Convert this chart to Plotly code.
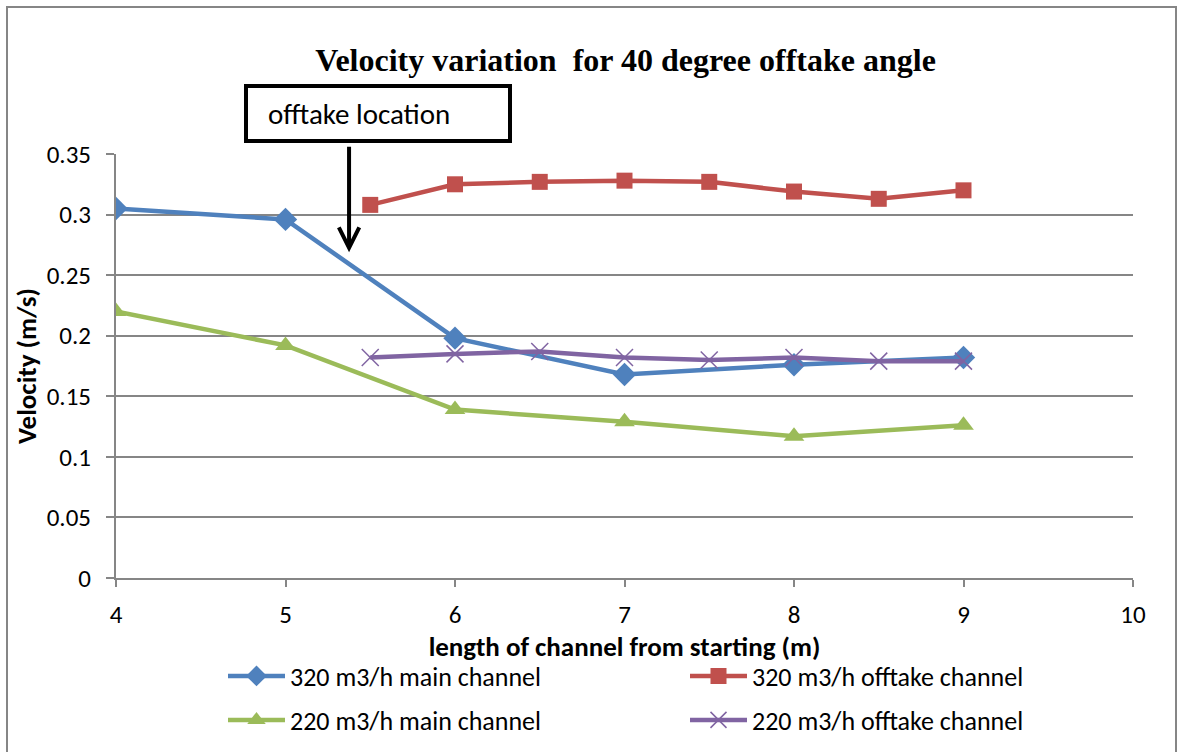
import plotly.graph_objects as go

# ---- data ----
x_main = [4, 5, 6, 7, 8, 9]
x_off = [5.5, 6, 6.5, 7, 7.5, 8, 8.5, 9]
main_320 = [0.305, 0.296, 0.198, 0.168, 0.176, 0.182]
off_320 = [0.308, 0.325, 0.327, 0.328, 0.327, 0.319, 0.313, 0.320]
main_220 = [0.220, 0.192, 0.139, 0.129, 0.117, 0.126]
off_220 = [0.182, 0.185, 0.187, 0.182, 0.180, 0.182, 0.179, 0.179]
names = ["320 m3/h main channel", "320 m3/h offtake channel",
         "220 m3/h main channel", "220 m3/h offtake channel"]
offtake_x = 5.375
offtake_y = 0.269

FONT = "Carlito, Lato, 'Liberation Sans', sans-serif"

fig = go.Figure()
fig.add_trace(go.Scatter(x=x_main, y=main_320, name=names[0], mode="lines+markers",
                         line=dict(color="#4F81BD", width=4.5),
                         marker=dict(symbol="diamond", size=18, color="#4F81BD"),
                         legend="legend"))
fig.add_trace(go.Scatter(x=x_off, y=off_320, name=names[1], mode="lines+markers",
                         line=dict(color="#C0504D", width=4.5),
                         marker=dict(symbol="square", size=16, color="#C0504D"),
                         legend="legend2"))
fig.add_trace(go.Scatter(x=x_main, y=main_220, name=names[2], mode="lines+markers",
                         line=dict(color="#9BBB59", width=4.5),
                         marker=dict(symbol="triangle-up", size=18, color="#9BBB59"),
                         legend="legend3"))
fig.add_trace(go.Scatter(x=x_off, y=off_220, name=names[3], mode="lines+markers",
                         line=dict(color="#8064A2", width=4.5),
                         marker=dict(symbol="x-thin", size=17, color="#8064A2",
                                     line=dict(color="#8064A2", width=1.5)),
                         legend="legend4"))

legend_common = dict(orientation="h", xanchor="left", yanchor="middle",
                     font=dict(family=FONT, size=26, color="#000000"),
                     itemwidth=57, bgcolor="rgba(0,0,0,0)")

col1 = (229 - 6 - 116) / 1017
col2 = (691 - 6 - 116) / 1017
row1 = (578 - 676) / 424
row2 = (578 - 720) / 424

fig.update_layout(
    width=1178, height=752,
    margin=dict(l=116, r=45, t=154, b=174, autoexpand=False),
    paper_bgcolor="white", plot_bgcolor="white",
    title=dict(text="<b>Velocity variation  for 40 degree offtake angle</b>",
               x=0.531, xanchor="center", y=0.92, yanchor="middle",
               font=dict(family="'Liberation Serif', 'Times New Roman', serif", size=32, color="#000")),
    xaxis=dict(range=[4, 10], dtick=1, tick0=4, showgrid=False,
               showline=True, linecolor="#868686", linewidth=2,
               ticks="outside", ticklen=7, tickcolor="#868686", tickwidth=2,
               ticklabelstandoff=6,
               tickfont=dict(family=FONT, size=25, color="#000"),
               title=dict(text="<b>length of channel from starting (m)</b>",
                          font=dict(family=FONT, size=27, color="#000"), standoff=4),
               zeroline=False),
    yaxis=dict(range=[0, 0.35], dtick=0.05, tick0=0, showgrid=True,
               gridcolor="#868686", gridwidth=2,
               showline=True, linecolor="#868686", linewidth=2,
               ticks="outside", ticklen=8, tickcolor="#868686", tickwidth=2,
               ticklabelstandoff=10,
               tickfont=dict(family=FONT, size=25, color="#000"),
               title=dict(text="<b>Velocity (m/s)</b>",
                          font=dict(family=FONT, size=27, color="#000"), standoff=2),
               zeroline=False),
    legend=dict(x=col1, y=row1, **legend_common),
    legend2=dict(x=col2, y=row1, **legend_common),
    legend3=dict(x=col1, y=row2, **legend_common),
    legend4=dict(x=col2, y=row2, **legend_common),
    showlegend=True,
)

# outer chart border
fig.add_shape(type="rect", xref="paper", yref="paper",
              x0=(7 - 116) / 1017, x1=(1176 - 116) / 1017,
              y0=(578 - 760) / 424, y1=(578 - 7) / 424,
              line=dict(color="#868686", width=2), layer="below")

# offtake location callout box
fig.add_shape(type="rect", xref="paper", yref="paper",
              x0=(246 - 116) / 1017, x1=(510 - 116) / 1017,
              y0=(578 - 141) / 424, y1=(578 - 86) / 424,
              line=dict(color="#000", width=4), fillcolor="white", layer="above")
fig.add_annotation(xref="paper", yref="paper",
                   x=(266 - 116) / 1017, y=(578 - 114) / 424,
                   xanchor="left", yanchor="middle",
                   text="offtake location", showarrow=False,
                   font=dict(family=FONT, size=29, color="#000"))
fig.add_annotation(xref="x", yref="y", x=offtake_x, y=offtake_y,
                   ax=0, ay=-107, text="", showarrow=True,
                   arrowhead=5, arrowsize=1, arrowwidth=4, arrowcolor="#000")

fig.write_html("out.html")
